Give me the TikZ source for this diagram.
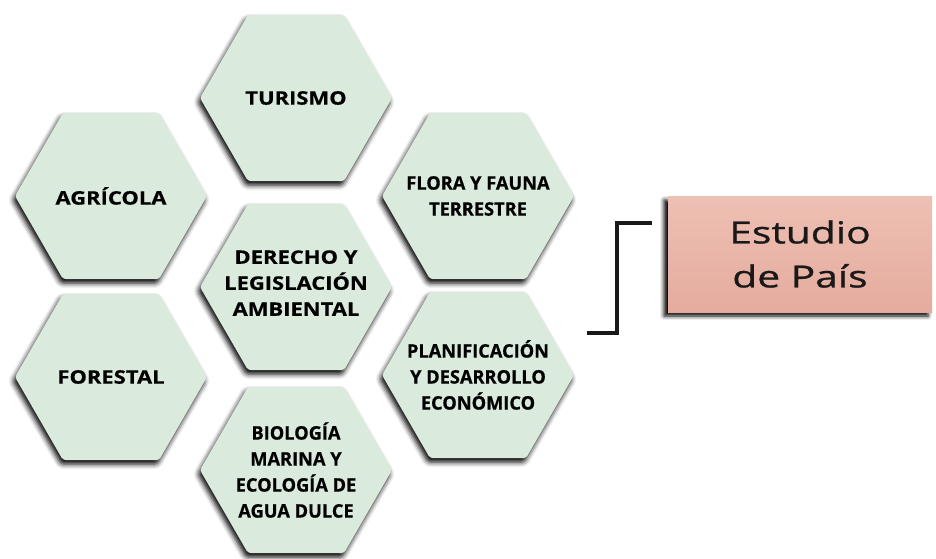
\documentclass[tikz,border=0pt]{standalone}
\usepackage{fontspec}
\setmainfont{Open Sans}[FakeStretch=1.18, BoldFeatures={FakeBold=0.5}]
\newfontfamily\narrowfont{Open Sans}[FakeStretch=0.98, BoldFeatures={FakeBold=0.6}]
\newfontfamily\widefont{Open Sans}[FakeStretch=1.34, FakeBold=0.9]
\usepackage{tikz}
\usetikzlibrary{positioning, shapes.geometric, shadows.blur}

\definecolor{hexfill}{RGB}{218,234,221}
\definecolor{boxtop}{RGB}{238,192,180}
\definecolor{boxbot}{RGB}{229,171,158}

\begin{document}
\begin{tikzpicture}[
x=1pt, y=-1pt,
hexa/.style={regular polygon,
  regular polygon sides=6,
  minimum size=192pt,
  inner sep=0pt,
  fill=hexfill,
  rounded corners=3pt,
  blur shadow={shadow xshift=-2pt, shadow yshift=-4pt,
    shadow blur radius=5pt, shadow opacity=100}
},
hextext/.style={align=center,
  inner sep=0pt,
  font=\bfseries\fontsize{18.6}{26}\selectfont
},
narrow/.style={font=\narrowfont\bfseries\fontsize{18.6}{26}\selectfont},
studybox/.style={rectangle,
  minimum width=264pt,
  minimum height=116pt,
  top color=boxtop, bottom color=boxbot,
  blur shadow={shadow xshift=-4pt, shadow yshift=-4pt,
    shadow blur radius=4pt, shadow opacity=100},
  align=center,
  text=black!90,
  font=\widefont\fontsize{30.4}{44}\selectfont
},
bracket/.style={line width=3.8pt, black!90}
]
\useasboundingbox (0,0) rectangle (936,558);

% honeycomb of subject areas
\node[hexa] (tur) at (296,98) {};
\node[hexa] (agr) at (111,196) {};
\node[hexa] (flo) at (478,196) {};
\node[hexa] (der) at (296,287) {};
\node[hexa] (for) at (111,377) {};
\node[hexa] (pla) at (478,375) {};
\node[hexa] (bio) at (296,470) {};

\node[hextext] (turt) at (tur) {TURISMO};
\node[hextext] (agrt) at (agr) {AGRÍCOLA};
\node[hextext, narrow] (flot) at (flo) {FLORA Y FAUNA\\TERRESTRE};
\node[hextext] (dert) at ([yshift=4pt]der.center) {DERECHO Y\\LEGISLACIÓN\\AMBIENTAL};
\node[hextext] (fort) at (for) {FORESTAL};
\node[hextext, narrow] (plat) at (pla) {PLANIFICACIÓN\\Y DESARROLLO\\ECONÓMICO};
\node[hextext, narrow] (biot) at (bio) {BIOLOGÍA\\MARINA Y\\ECOLOGÍA DE\\AGUA DULCE};

% result box
\node[studybox] (est) at (800,254) {Estudio\\de País};

\coordinate (lo) at (587,333);
\coordinate (hi) at (652,223);
\draw[bracket] (lo) -- ++(30,0) |- (hi);
\end{tikzpicture}
\end{document}
